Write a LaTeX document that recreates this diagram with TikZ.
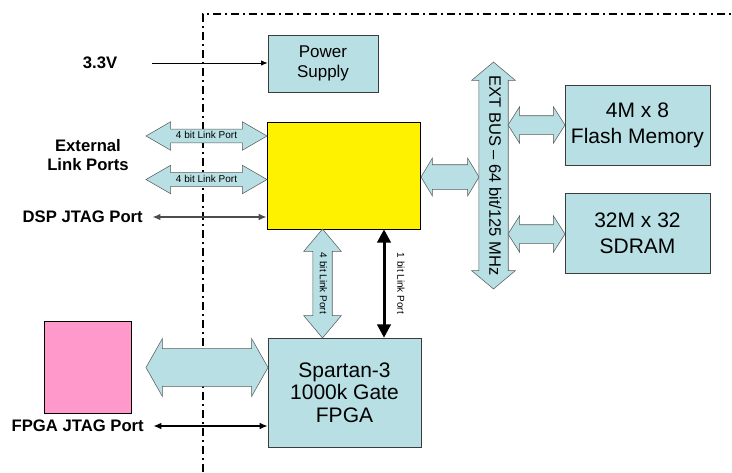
\documentclass[tikz,border=0pt]{standalone}
\usepackage{fontspec}
\setmainfont{Liberation Sans}
\usetikzlibrary{shapes.arrows,arrows.meta}
\definecolor{boxblue}{RGB}{184,224,228}
\definecolor{chippink}{RGB}{255,153,204}
\definecolor{edgegray}{RGB}{60,60,60}
\tikzstyle{blk} = [draw=edgegray, fill=boxblue, align=center, inner sep=0pt]
\tikzstyle{chip} = [draw=black, fill=yellow, inner sep=0pt]
\tikzstyle{port} = [font={\bfseries\fontsize{12.5}{14.25}\selectfont}, align=center, inner sep=0pt]
\tikzstyle{bus} = [draw=black!65, fill=boxblue, double arrow, inner xsep=0.5pt, font={\fontsize{7.5}{8}\selectfont}, text height=5.5pt, text depth=1.5pt]
\tikzstyle{jtag} = [{Latex[length=6pt,width=5pt]}-{Latex[length=6pt,width=5pt]}]
\tikzstyle{frame} = [line width=1.5pt, dash pattern=on 6pt off 3pt on 1.5pt off 3pt]

\begin{document}
\begin{tikzpicture}[x=0.75pt,y=-0.75pt]
        \useasboundingbox (0,0) rectangle (732,472);
        % board edge
        \draw[frame] (203,472) -- (203,14) -- (732,14);
        % blocks
        \node[blk, minimum width=82.5pt, minimum height=42.75pt, font={\fontsize{12.75}{15}\selectfont}](psu) at (323,63.5){Power\\Supply};
        \node[chip, minimum width=114.75pt, minimum height=80.25pt](dsp) at (343.5,175.5){};
        \node[blk, minimum width=108.75pt, minimum height=60pt, font={\fontsize{15.75}{19.5}\selectfont}](flash) at (637.5,125){4M x 8\\Flash Memory};
        \node[blk, minimum width=108.75pt, minimum height=60pt, font={\fontsize{15.75}{19.5}\selectfont}](sdram) at (637.5,233){32M x 32\\SDRAM};
        \node[blk, minimum width=114.75pt, minimum height=81.75pt, font={\fontsize{15.75}{17}\selectfont}](fpga) at (344.5,392.5){Spartan-3\\1000k Gate\\FPGA};
        \node[draw=black, fill=chippink, minimum width=65.25pt, minimum height=69pt](prom) at (87.5,367){};
        % outside labels
        \node[port](v33) at (100,63){3.3V};
        \node[port](ext) at (88,155){External\\Link Ports};
        \node[port, anchor=east](djtag) at (143,217){DSP JTAG Port};
        \node[port, anchor=east](fjtag) at (144,426){FPGA JTAG Port};
        % wide buses
        \node[bus, minimum height=90.75pt, inner ysep=1.4pt, double arrow head extend=5.6pt, double arrow tip angle=60](lp1) at (206.5,136){4 bit Link Port};
        \node[bus, minimum height=90.75pt, inner ysep=1.4pt, double arrow head extend=5.6pt, double arrow tip angle=60](lp2) at (206.5,179.5){4 bit Link Port};
        \node[bus, minimum height=43.5pt, text height=0pt, text depth=0pt, inner ysep=9pt, double arrow head extend=4.9pt, double arrow tip angle=118](dbus) at (450,177){};
        \node[bus, rotate=-90, minimum height=167.25pt, inner ysep=5.1pt, text height=8.9pt, text depth=2.6pt, double arrow head extend=5.25pt, double arrow tip angle=100, font={\fontsize{12.4}{13}\selectfont}](xbus) at (493.5,175.5){EXT BUS -- 64 bit/125 MHz};
        \node[bus, minimum height=42.75pt, text height=0pt, text depth=0pt, inner ysep=6.75pt, double arrow head extend=6.75pt, double arrow tip angle=115](fbus) at (536.5,125){};
        \node[bus, minimum height=42.75pt, text height=0pt, text depth=0pt, inner ysep=6.75pt, double arrow head extend=6.75pt, double arrow tip angle=115](sbus) at (536.5,234){};
        \node[bus, rotate=-90, minimum height=81.75pt, inner ysep=3.6pt, double arrow head extend=6.75pt, double arrow tip angle=80](lp3) at (322.5,283.5){4 bit Link Port};
        \node[bus, minimum height=91.5pt, text height=0pt, text depth=0pt, inner ysep=13.9pt, double arrow head extend=7.5pt, double arrow tip angle=121](pbus) at (207,367.5){};
        % thin lines
        \coordinate (vin) at (152,63);
        \draw[-{Latex[length=5pt,width=4pt]}, line width=0.6pt](vin) -- (psu.west |- vin);
        \draw[jtag, draw=black!70, line width=1.9pt]([xshift=7pt]djtag.east) -- (dsp.west |- djtag.east);
        \draw[jtag, line width=1.1pt]([xshift=7pt]fjtag.east) -- (fpga.west |- fjtag.east);
        \coordinate (lk) at (384,283.5);
        \draw[{Triangle[length=10pt,width=10pt]}-{Triangle[length=10pt,width=10pt]}, line width=2.25pt](lk |- dsp.south) -- (lk |- fpga.north);
        \node[rotate=-90, font={\fontsize{7.5}{8}\selectfont}](lkl) at (401,283.5){1 bit Link Port};
      \end{tikzpicture}
\end{document}
